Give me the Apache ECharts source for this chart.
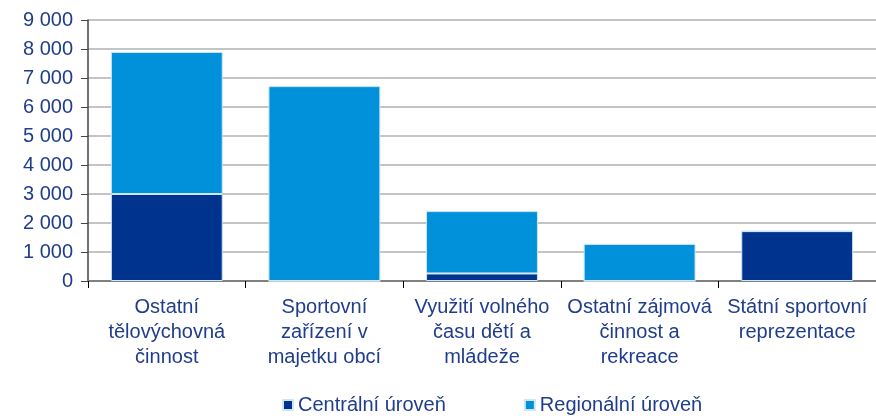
<!DOCTYPE html>
<html>
<head>
<meta charset="utf-8">
<script src="https://cdn.jsdelivr.net/npm/echarts@6/dist/echarts.min.js"></script>
<style>
  html, body { margin: 0; padding: 0; background: #fff; }
  #chart { width: 876px; height: 416px; }
</style>
</head>
<body>
<div id="chart"></div>
<script>
// kategorie a hodnoty
const categories = [
  'Ostatní\ntělovýchovná\nčinnost',
  'Sportovní\nzařízení v\nmajetku obcí',
  'Využití volného\nčasu dětí a\nmládeže',
  'Ostatní zájmová\nčinnost a\nrekreace',
  'Státní sportovní\nreprezentace'
];
const centralni = [3000, 0, 260, 0, 1720];
const regionalni = [4900, 6720, 2150, 1280, 0];
const yTicks = [0, 1000, 2000, 3000, 4000, 5000, 6000, 7000, 8000, 9000];

const textColor = '#1f3d8c';
const font = 'Liberation Sans, Arial, sans-serif';

const myChart = echarts.init(document.getElementById('chart'));

const option = {
  animation: false,
  color: ['#00338d', '#0091da'],
  grid: { left: 88, right: -2, top: 20, bottom: 135 },
  legend: {
    top: 390,
    left: 277,
    itemGap: 78,
    itemWidth: 10,
    itemHeight: 10,
    icon: 'rect',
    textStyle: { color: textColor, fontSize: 20, fontFamily: font, padding: [0, 0, 0, 0] },
    data: ['Centrální úroveň', 'Regionální úroveň']
  },
  xAxis: {
    type: 'category',
    data: categories,
    axisLine: { lineStyle: { color: '#808080', width: 2 } },
    axisTick: { show: true, length: 7, lineStyle: { color: '#000' } },
    axisLabel: {
      color: textColor, fontSize: 20, fontFamily: font,
      lineHeight: 25, margin: 14, interval: 0
    }
  },
  yAxis: {
    type: 'value',
    min: 0,
    max: yTicks[yTicks.length - 1],
    interval: 1000,
    axisLine: { show: true, lineStyle: { color: '#444', width: 1.5 } },
    axisTick: { show: true, length: 7, lineStyle: { color: '#444' } },
    splitLine: { lineStyle: { color: '#c4c4c4', width: 2 } },
    axisLabel: {
      color: textColor, fontSize: 20, fontFamily: font, margin: 15,
      formatter: v => String(v).replace(/\B(?=(\d{3})+(?!\d))/g, ' ')
    }
  },
  series: [
    {
      name: 'Centrální úroveň',
      type: 'bar',
      stack: 'total',
      barWidth: '71%',
      itemStyle: { borderColor: '#cfe6f7', borderWidth: 1 },
      data: centralni
    },
    {
      name: 'Regionální úroveň',
      type: 'bar',
      stack: 'total',
      barWidth: '71%',
      itemStyle: { borderColor: '#cfe6f7', borderWidth: 1 },
      data: regionalni
    }
  ]
};

myChart.setOption(option);
</script>
</body>
</html>
